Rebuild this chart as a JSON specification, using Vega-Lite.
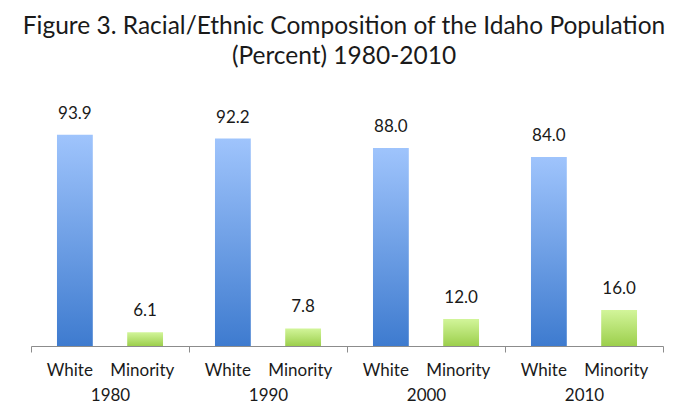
{
  "$schema": "https://vega.github.io/schema/vega-lite/v6.json",
  "autosize": "none",
  "width": 632,
  "height": 225,
  "padding": {"left": 31, "top": 121, "right": 20, "bottom": 65},
  "background": "white",
  "title": {
    "text": ["Figure 3. Racial/Ethnic Composition of the Idaho Population", "(Percent) 1980-2010"],
    "font": "Lato",
    "fontSize": 24.5,
    "fontWeight": "normal",
    "color": "#1a1a1a",
    "lineHeight": 30,
    "offset": 35,
    "dx": -3
  },
  "data": {
    "values": [
      {"year": "1980", "race": "White", "value": 93.9},
      {"year": "1980", "race": "Minority", "value": 6.1},
      {"year": "1990", "race": "White", "value": 92.2},
      {"year": "1990", "race": "Minority", "value": 7.8},
      {"year": "2000", "race": "White", "value": 88.0},
      {"year": "2000", "race": "Minority", "value": 12.0},
      {"year": "2010", "race": "White", "value": 84.0},
      {"year": "2010", "race": "Minority", "value": 16.0}
    ]
  },
  "encoding": {
    "x": {
      "field": "year",
      "type": "nominal",
      "sort": null,
      "scale": {"paddingInner": 0, "paddingOuter": 0},
      "axis": {
        "title": null,
        "labelAngle": 0,
        "tickBand": "extent",
        "tickSize": 6,
        "tickColor": "#8c8c8c",
        "domainColor": "#8c8c8c",
        "labelFont": "Lato",
        "labelFontSize": 17,
        "labelColor": "#1a1a1a",
        "labelPadding": 10,
        "labelLineHeight": 25,
        "labelExpr": "datum.label ? ['White\u00a0\u00a0\u00a0\u00a0Minority', datum.label] : ''"
      }
    },
    "xOffset": {
      "field": "race",
      "type": "nominal",
      "scale": {"domain": ["White", "Minority"], "paddingInner": 0.49, "paddingOuter": 0.37}
    },
    "y": {
      "field": "value",
      "type": "quantitative",
      "scale": {"domain": [0, 100]},
      "axis": null
    }
  },
  "layer": [
    {
      "transform": [{"filter": "datum.race === 'White'"}],
      "mark": {
        "type": "bar",
        "fill": {
          "gradient": "linear", "x1": 0, "x2": 0, "y1": 0, "y2": 1,
          "stops": [{"offset": 0, "color": "#9fc4fc"}, {"offset": 1, "color": "#3e7bcf"}]
        }
      }
    },
    {
      "transform": [{"filter": "datum.race === 'Minority'"}],
      "mark": {
        "type": "bar",
        "fill": {
          "gradient": "linear", "x1": 0, "x2": 0, "y1": 0, "y2": 1,
          "stops": [{"offset": 0, "color": "#d2f59a"}, {"offset": 1, "color": "#9ccf4c"}]
        }
      }
    },
    {
      "mark": {"type": "text", "baseline": "bottom", "dy": -12, "font": "Lato", "fontSize": 17, "color": "#1a1a1a"},
      "encoding": {
        "text": {"field": "value", "type": "quantitative", "format": ".1f"}
      }
    }
  ],
  "config": {"font": "Lato", "view": {"stroke": null}}
}
